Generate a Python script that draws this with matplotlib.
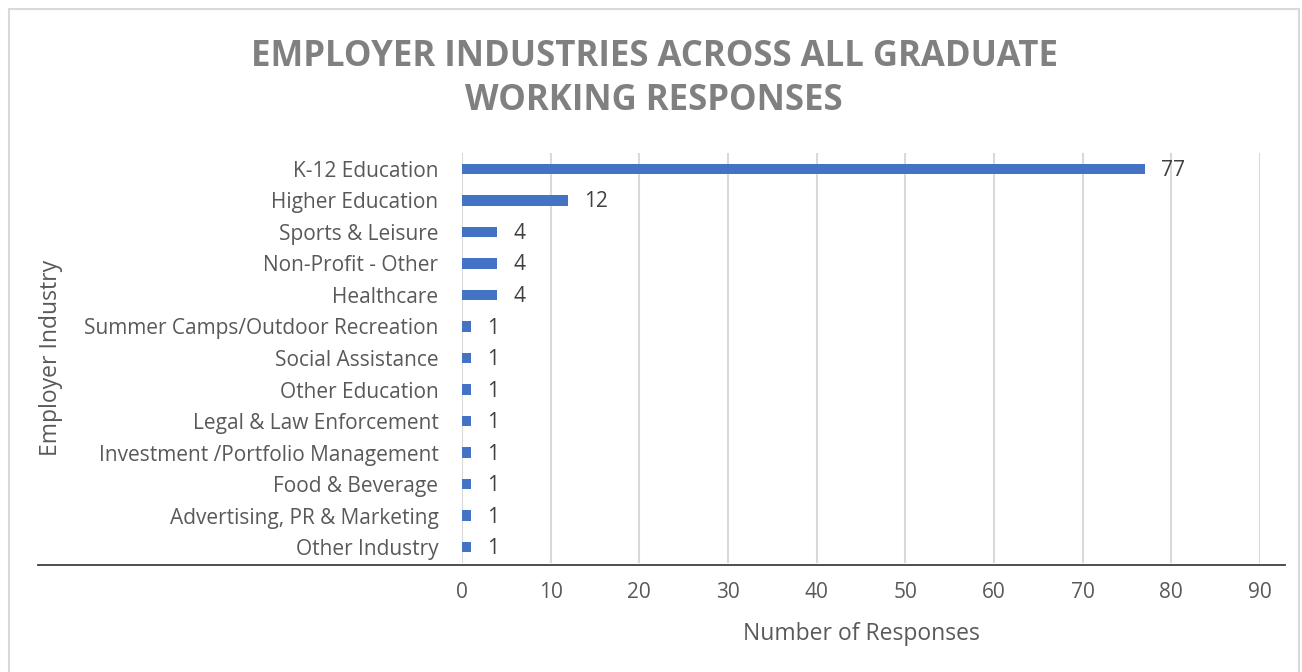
import matplotlib
matplotlib.use("Agg")
import matplotlib.pyplot as plt
from matplotlib.lines import Line2D
from matplotlib.patches import Rectangle

categories = ["K-12 Education", "Higher Education", "Sports & Leisure", "Non-Profit - Other",
              "Healthcare", "Summer Camps/Outdoor Recreation", "Social Assistance",
              "Other Education", "Legal & Law Enforcement", "Investment /Portfolio Management",
              "Food & Beverage", "Advertising, PR & Marketing", "Other Industry"]
values = [77, 12, 4, 4, 4, 1, 1, 1, 1, 1, 1, 1, 1]
x_ticks = [0, 10, 20, 30, 40, 50, 60, 70, 80, 90]
title = "EMPLOYER INDUSTRIES ACROSS ALL GRADUATE\nWORKING RESPONSES"
x_label = "Number of Responses"
y_label = "Employer Industry"

W, H = 1302, 672
fig = plt.figure(figsize=(W / 100, H / 100), dpi=100)
plt.rcParams['font.family'] = ['Open Sans', 'DejaVu Sans']

def fx(px):
    return px / W

def fy(py):
    return 1 - py / H

ax = fig.add_axes([fx(462), fy(563), fx(1260) - fx(462), fy(153) - fy(563)])

n = len(categories)
ypos = list(range(n))
ax.barh(ypos, values, height=0.33, color="#4472C4", zorder=3)
ax.set_ylim(n - 0.5, -0.5)
ax.set_xlim(0, 90)
ax.set_xticks(x_ticks)
ax.set_xticklabels([str(t) for t in x_ticks])
ax.set_yticks(ypos)
ax.set_yticklabels(categories)
ax.tick_params(axis='both', length=0, labelsize=15, colors="#595959")
ax.tick_params(axis='x', pad=14)
ax.tick_params(axis='y', pad=17)
ax.xaxis.grid(True, color="#d9d9d9", linewidth=1.5, zorder=0)
ax.set_axisbelow(True)
for s in ax.spines.values():
    s.set_visible(False)

for y, v in zip(ypos, values):
    ax.text(v + 1.8, y + 0.05, str(v), va="center", ha="left", fontsize=15, color="#404040")

ax.set_xlabel(x_label, fontsize=16.5, color="#595959", labelpad=13)

fig.text(fx(51), fy(358), y_label, rotation=90, ha="center", va="center",
         fontsize=16.5, color="#595959")

fig.text(fx(654), fy(79), title, ha="center", va="center", fontsize=25,
         fontweight="bold", color="#808080", linespacing=1.33)

# horizontal axis line spanning under category labels
fig.add_artist(Line2D([fx(38), fx(1285)], [fy(565), fy(565)], color="#404040",
                      linewidth=1.3, transform=fig.transFigure))

# chart border
fig.add_artist(Rectangle((fx(9), fy(700)), fx(1299) - fx(9), fy(9) - fy(700),
                         fill=False, edgecolor="#d9d9d9", linewidth=1.5,
                         transform=fig.transFigure))

fig.savefig("out.png", dpi=100, facecolor="white")
